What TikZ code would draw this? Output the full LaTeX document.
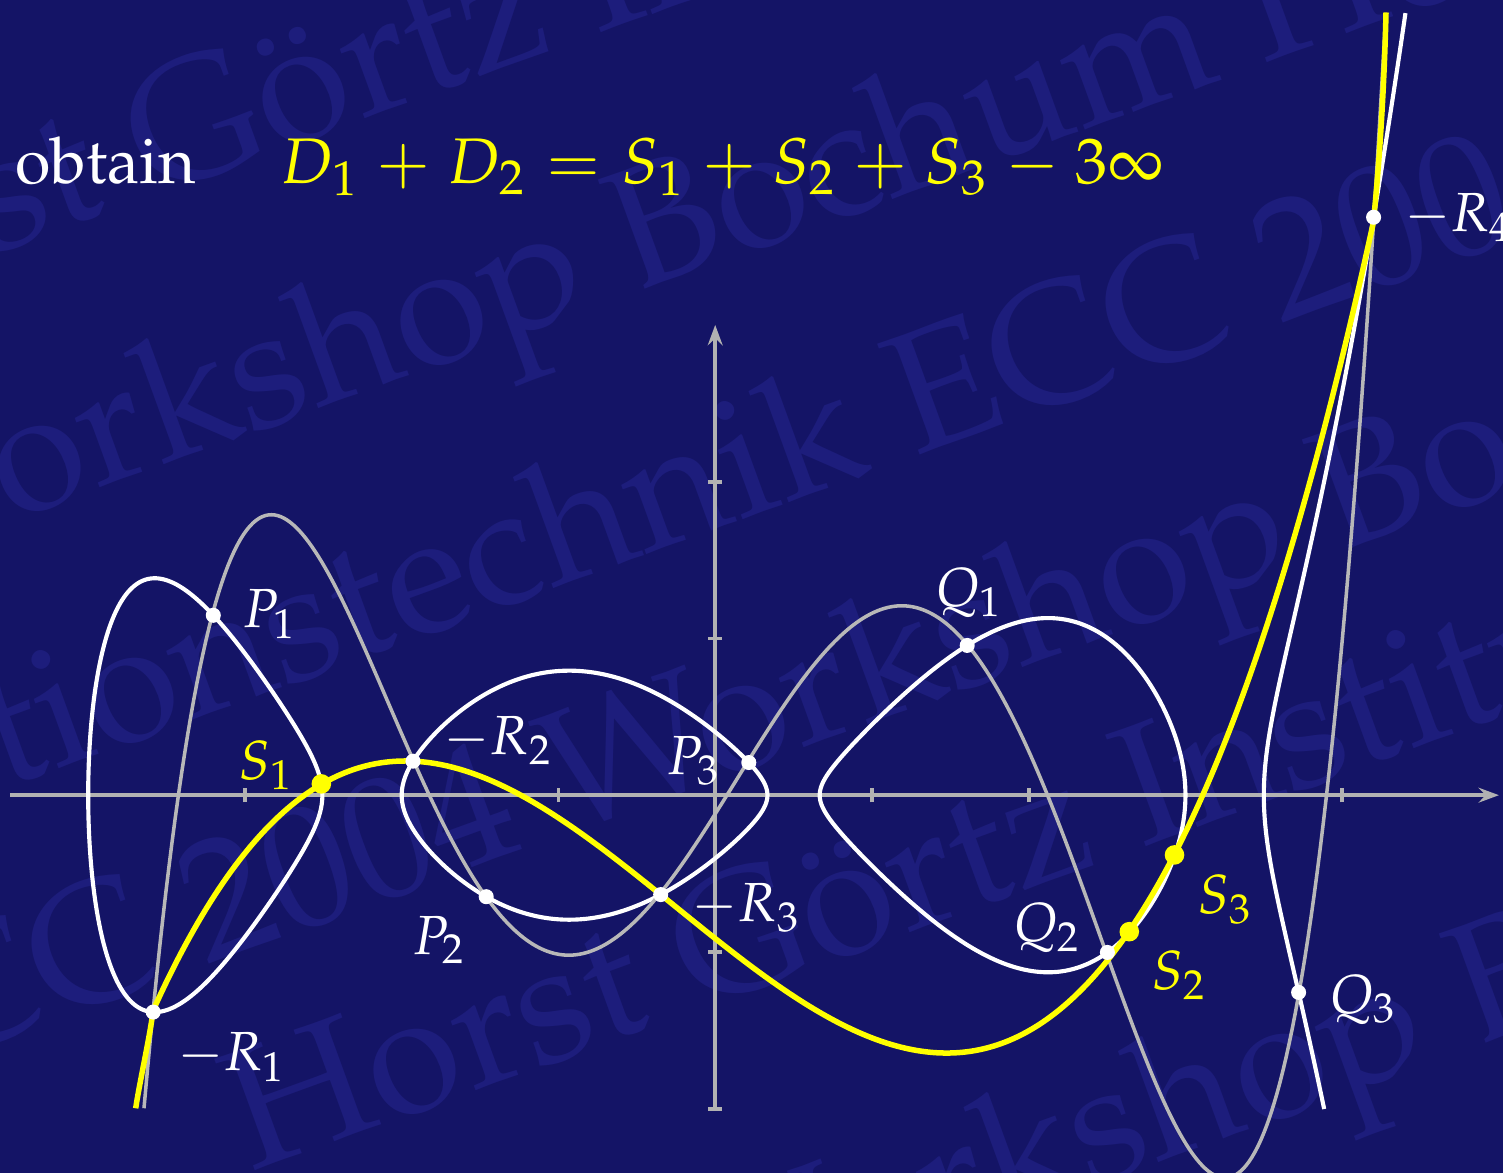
\documentclass[tikz,border=0pt]{standalone}
\usepackage[T1]{fontenc}
\usepackage{mathpazo}
\usetikzlibrary{arrows.meta}
\definecolor{slidebg}{RGB}{20,20,102}
\definecolor{wmark}{RGB}{29,29,124}
\definecolor{axgray}{RGB}{178,178,178}
\definecolor{cgray}{RGB}{184,184,184}
\definecolor{cyellow}{RGB}{255,255,0}
\begin{document}
\begin{tikzpicture}[x=1cm,y=1cm,
  declare function={
    fw(\x)=(\x+4)*(\x+2.506)*(\x+2)*(\x-0.33333)*(\x-0.66667)*(\x-3)*(\x-3.5);
    wy(\x)=0.058907*sqrt(abs(fw(\x)));
    fg(\x)=(\x+3.4245)*(\x+1.824)*(\x-0.075)*(\x-2.12)*(\x-3.9)*0.03091;
    fy(\x)=(\x+2.62)*(\x+1.24)*(\x-3.11)*0.0905;
  },
  axisline/.style={axgray, line width=0.67pt},
  whitecurve/.style={white, line width=0.75pt, line join=round},
  graycurve/.style={cgray, line width=0.64pt, line join=round},
  yellowcurve/.style={cyellow, line width=1.0pt, line join=round},
  wdot/.style={circle, fill=white, inner sep=0pt, minimum size=0.096cm},
  ydot/.style={circle, fill=cyellow, inner sep=0pt, minimum size=0.125cm},
  lbl/.style={anchor=base west, inner sep=0pt, text=white, font=\fontsize{10}{12}\selectfont},
  ylbl/.style={lbl, text=cyellow},
  wm/.style={anchor=base west, inner sep=0pt, text=wmark, rotate=20, font=\fontsize{31}{32}\selectfont},
]
\useasboundingbox (-4.5627,-2.4102) rectangle (5.0258,5.0730);
\fill[slidebg] (-4.5627,-2.4102) rectangle (5.0258,5.0730);
\clip (-4.5627,-2.4102) rectangle (5.0258,5.0730);

% watermark
\node[wm] (wmA) at (-3.605,3.818) {\llap{Horst }G\"ortz Institut f\"ur Sicherheit in der Informationstechnik};
\node[wm] (wmB) at (-0.518,3.2026) {\llap{ECC 2004 Workshop }Bochum Horst G\"ortz Institut};
\node[wm] (wmC) at (1.2683,2.1563) {\llap{Sicherheit in der Informationstechnik }ECC 2004 Workshop};
\node[wm] (wmD) at (-3.2536,-1.0829) {\llap{ECC }2004 Workshop Bochum Horst G\"ortz};
\node[wm] (wmE) at (-2.9678,-2.4038) {Horst G\"ortz Institut f\"ur Sicherheit};
\node[wm] (wmF) at (4.842,-1.6077) {\llap{Informationstechnik ECC 2004 Workshop }Bochum};

% title
\node[anchor=base west, inner sep=0pt, text=white, font=\fontsize{11.7}{14}\selectfont] (obt) at (-4.47,3.9037) {obtain};
\node[anchor=base west, inner sep=0pt, text=cyellow, font=\fontsize{11.7}{14}\selectfont] (formula) at (-2.78,3.9037)
  {$\medmuskip=4.7mu\thickmuskip=5.7mu D_1+D_2=S_1+S_2+S_3-3\infty$};

% axes
\coordinate (xl) at (-4.5,0);
\coordinate (xr) at (5.0,0);
\coordinate (yb) at (0,-2);
\coordinate (yt) at (0,3);
\draw[axisline, -{Stealth[length=3.7pt,width=2.7pt,inset=1.3pt]}] (xl) -- (xr);
\draw[axisline, -{Stealth[length=3.7pt,width=2.7pt,inset=1.3pt]}] (yb) -- (yt);
\foreach \i in {-4,-3,-2,-1,1,2,3,4} \draw[axisline] (\i,-0.046) -- (\i,0.046);
\foreach \j in {-2,-1,1,2} \draw[axisline] (-0.046,\j) -- (0.046,\j);

% white curve y^2 = f(x)
\draw[whitecurve] plot[variable=\t, domain=0:360, samples=361]
  ({-3.253-0.747*cos(\t)}, {ifthenelse(sin(\t)<0,-1,1)*wy(-3.253-0.747*cos(\t))}) -- cycle;
\draw[whitecurve] plot[variable=\t, domain=0:360, samples=361]
  ({-0.83333-1.16667*cos(\t)}, {ifthenelse(sin(\t)<0,-1,1)*wy(-0.83333-1.16667*cos(\t))}) -- cycle;
\draw[whitecurve] plot[variable=\t, domain=0:360, samples=361]
  ({1.83333-1.16667*cos(\t)}, {ifthenelse(sin(\t)<0,-1,1)*wy(1.83333-1.16667*cos(\t))}) -- cycle;
\draw[whitecurve] plot[variable=\t, domain=-0.6205:0.9516, samples=241]
  ({3.5+\t*\t}, {ifthenelse(\t<0,-1,1)*wy(3.5+\t*\t)});

% gray curve
\draw[graycurve] plot[domain=-3.644:4.279, samples=400] (\x,{fg(\x)});

% yellow curve
\coordinate (ya) at (-3.697,-1.9975);
\coordinate (yz) at (4.2795,4.9933);
\draw[yellowcurve] (ya) .. controls (-3.67,-1.82) and (-3.61,-1.56) .. (-3.5853,{fy(-3.5853)})
  -- plot[domain=-3.5853:4.2003, samples=300] (\x,{fy(\x)})
  .. controls (4.235,4.0) and (4.268,4.5) .. (yz);

% points
\node[wdot] (P1) at (-3.2019,{wy(-3.2019)}) {};
\node[wdot] (P2) at (-1.4609,{-wy(-1.4609)}) {};
\node[wdot] (P3) at (0.2144,{wy(0.2144)}) {};
\node[wdot] (Q1) at (1.6077,{wy(1.6077)}) {};
\node[wdot] (Q2) at (2.5021,{-wy(2.5021)}) {};
\node[wdot] (Q3) at (3.7218,{-wy(3.7218)}) {};
\node[wdot] (R1) at (-3.5853,{-wy(-3.5853)}) {};
\node[wdot] (R2) at (-1.9279,{wy(-1.9279)}) {};
\node[wdot] (R3) at (-0.3477,{-wy(-0.3477)}) {};
\node[wdot] (R4) at (4.2003,{wy(4.2003)}) {};
\node[ydot] (S1) at (-2.5126,0.072) {};
\node[ydot] (S2) at (2.6418,-0.8708) {};
\node[ydot] (S3) at (2.9302,-0.3812) {};

% labels
\node[lbl] (lP1) at (-3.02,1.0667) {$P_1$};
\node[lbl] (lP2) at (-1.939,-1.015) {$P_2$};
\node[lbl] (lP3) at (-0.3147,0.1289) {$P_3$};
\node[lbl] (lQ1) at (1.395,1.2026) {$Q_1$};
\node[lbl] (lQ2) at (1.8926,-0.9346) {$Q_2$};
\node[lbl] (lQ3) at (3.910,-1.3914) {$Q_3$};
\node[lbl] (lR1) at (-3.438,-1.758) {$-R_1$};
\node[lbl] (lR2) at (-1.7374,0.2565) {$-R_2$};
\node[lbl] (lR3) at (-0.1546,-0.807) {$-R_3$};
\node[lbl] (lR4) at (4.3915,3.595) {$-R_4$};
\node[ylbl] (lS1) at (-3.0439,0.1014) {$S_1$};
\node[ylbl] (lS2) at (2.777,-1.2427) {$S_2$};
\node[ylbl] (lS3) at (3.0722,-0.7579) {$S_3$};
\end{tikzpicture}
\end{document}
